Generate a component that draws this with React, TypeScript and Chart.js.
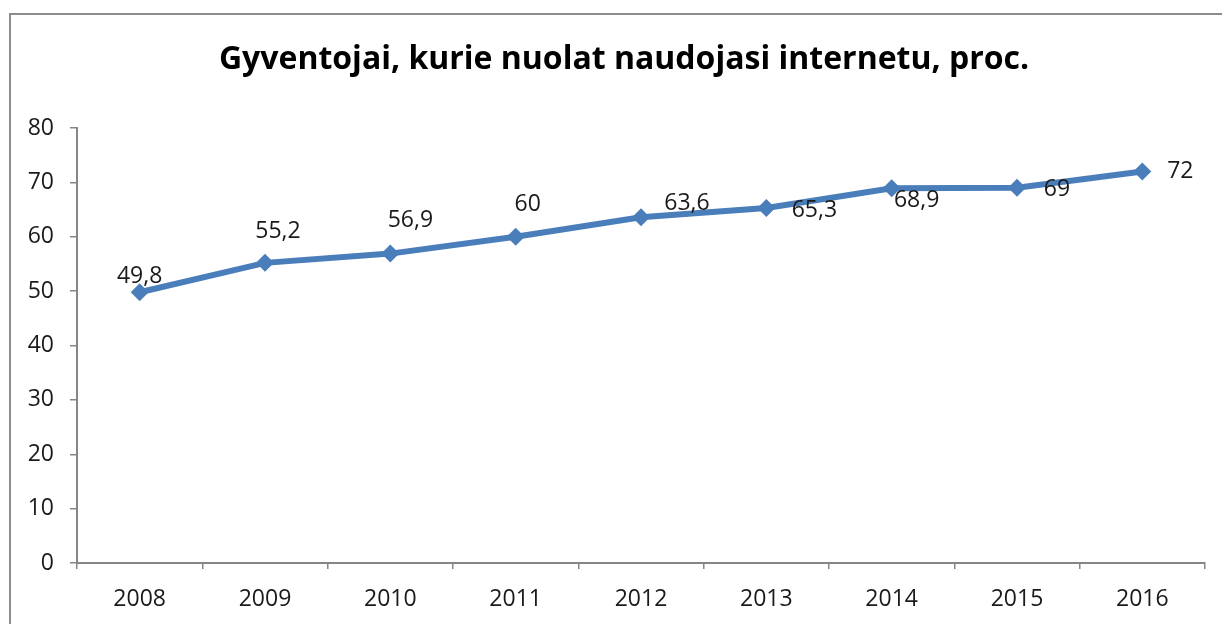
import React, { useEffect, useRef } from "react";
import { Chart, registerables } from "chart.js";

Chart.register(...registerables);

const TITLE = "Gyventojai, kurie nuolat naudojasi internetu, proc.";
const years = ["2008", "2009", "2010", "2011", "2012", "2013", "2014", "2015", "2016"];
const values = [49.8, 55.2, 56.9, 60, 63.6, 65.3, 68.9, 69, 72];
const valueLabels = ["49,8", "55,2", "56,9", "60", "63,6", "65,3", "68,9", "69", "72"];
// label offsets relative to each point (style only)
const labelDx = [0, 13, 20, 12, 46, 48, 25, 40, 38];
const labelDy = [-16, -31, -33, -32, -14, 3, 12, 2, 0];

const FONT = "'Open Sans', 'Noto Sans', sans-serif";
const AXIS_COLOR = "#868686";
const LINE_COLOR = "#4A7EBB";

const frameTitleLabels = {
  id: "frameTitleLabels",
  beforeDraw(chart: any) {
    const ctx = chart.ctx;
    ctx.save();
    ctx.fillStyle = "#ffffff";
    ctx.fillRect(0, 0, chart.width, chart.height);
    ctx.strokeStyle = "#8c8c8c";
    ctx.lineWidth = 2;
    ctx.strokeRect(10, 14, 1400, 800);
    ctx.font = `bold 32px ${FONT}`;
    ctx.fillStyle = "#000000";
    ctx.textAlign = "center";
    ctx.textBaseline = "middle";
    ctx.fillText(TITLE, 624, 60);
    ctx.restore();
  },
  afterDatasetsDraw(chart: any) {
    const ctx = chart.ctx;
    const meta = chart.getDatasetMeta(0);
    ctx.save();
    ctx.font = `23px ${FONT}`;
    ctx.fillStyle = "#1a1a1a";
    ctx.textAlign = "center";
    ctx.textBaseline = "middle";
    meta.data.forEach((pt: any, i: number) => {
      ctx.fillText(valueLabels[i], pt.x + labelDx[i], pt.y + labelDy[i]);
    });
    ctx.restore();
  },
};

export default function App() {
  const ref = useRef<HTMLCanvasElement | null>(null);
  useEffect(() => {
    if (!ref.current) return;
    const chart = new Chart(ref.current, {
      type: "line",
      data: {
        labels: years,
        datasets: [
          {
            data: values,
            borderColor: LINE_COLOR,
            backgroundColor: LINE_COLOR,
            borderWidth: 6,
            pointStyle: "rectRot",
            pointRadius: 9,
            pointHoverRadius: 9,
            pointBackgroundColor: LINE_COLOR,
            pointBorderColor: LINE_COLOR,
            pointBorderWidth: 0,
            tension: 0,
          },
        ],
      },
      options: {
        responsive: false,
        animation: false,
        events: [],
        layout: { padding: { left: 0, right: 17, top: 128, bottom: 0 } },
        plugins: {
          legend: { display: false },
          tooltip: { enabled: false },
          title: { display: false },
        },
        scales: {
          x: {
            offset: true,
            grid: {
              offset: true,
              drawOnChartArea: false,
              drawTicks: true,
              tickLength: 6,
              color: AXIS_COLOR,
              lineWidth: 1.5,
            },
            border: { display: true, color: AXIS_COLOR, width: 2 },
            ticks: {
              color: "#1a1a1a",
              font: { family: FONT, size: 23 },
              padding: 17,
              maxRotation: 0,
              autoSkip: false,
            },
            afterFit(scale: any) {
              scale.height = 61;
            },
          },
          y: {
            min: 0,
            max: 80,
            grid: {
              drawOnChartArea: false,
              drawTicks: true,
              tickLength: 7,
              color: AXIS_COLOR,
              lineWidth: 1.5,
            },
            border: { display: true, color: AXIS_COLOR, width: 2 },
            ticks: {
              stepSize: 10,
              color: "#1a1a1a",
              font: { family: FONT, size: 23 },
              padding: 16,
            },
            afterFit(scale: any) {
              scale.width = 77;
            },
          },
        },
      },
      plugins: [frameTitleLabels],
    });
    return () => chart.destroy();
  }, []);

  return (
    <div style={{ position: "fixed", left: 0, top: 0, width: 1222, height: 624, background: "#fff" }}>
      <canvas ref={ref} width={1222} height={624} style={{ display: "block" }} />
    </div>
  );
}
